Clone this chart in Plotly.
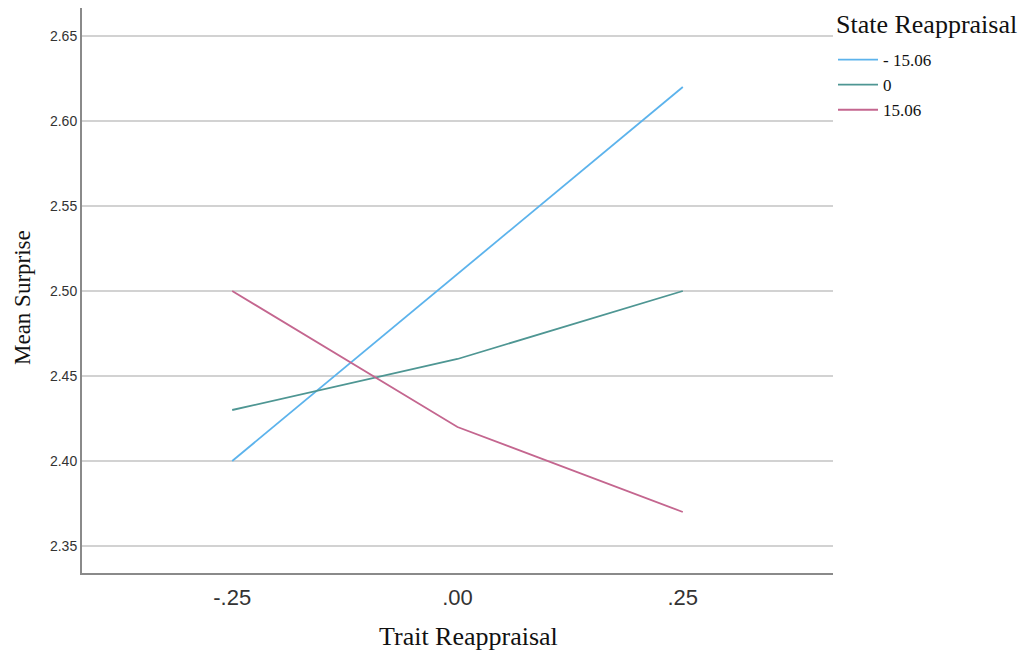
import plotly.graph_objects as go

x_vals = [-0.25, 0.0, 0.25]
x_labels = ["-.25", ".00", ".25"]
series_names = ["- 15.06", "0", "15.06"]
neg = [2.40, 2.51, 2.62]
zero = [2.43, 2.46, 2.50]
pos = [2.50, 2.42, 2.37]
y_ticks = [2.35, 2.40, 2.45, 2.50, 2.55, 2.60, 2.65]
y_labels = ["2.35", "2.40", "2.45", "2.50", "2.55", "2.60", "2.65"]

colors = ["#5cb3ec", "#4e9693", "#c4668f"]

L, R, T, B = 82, 833, 8, 573
W, H = 1023, 654

fig = go.Figure()
for name, ys, c in zip(series_names, [neg, zero, pos], colors):
    fig.add_trace(go.Scatter(x=x_vals, y=ys, mode="lines", name=name,
                             line=dict(color=c, width=1.8)))

fig.update_layout(
    width=W, height=H,
    margin=dict(l=L, r=W - R, t=T, b=H - B, autoexpand=False),
    paper_bgcolor="white", plot_bgcolor="white",
    showlegend=True,
    legend=dict(
        x=(833 - L) / (R - L), y=1 - (42 - T) / (B - T), xanchor="left", yanchor="top",
        font=dict(family="Liberation Serif", size=17, color="#111"),
        tracegroupgap=0, itemwidth=40,
    ),
    xaxis=dict(
        range=[-0.25 * 5 / 3, 0.25 * 5 / 3],
        tickvals=x_vals, ticktext=x_labels,
        tickfont=dict(family="Liberation Sans", size=22, color="#333"),
        showgrid=False, zeroline=False,
        showline=True, linecolor="#8a8a8a", linewidth=2,
        ticks="", ticklabelstandoff=4, automargin=False,
    ),
    yaxis=dict(
        range=[2.35 - 27 / 1700, 2.65 + 28 / 1700],
        tickvals=y_ticks, ticktext=y_labels,
        tickfont=dict(family="Liberation Sans", size=14, color="#333"),
        showgrid=True, gridcolor="#d2d2d2", gridwidth=2,
        zeroline=False,
        showline=True, linecolor="#8a8a8a", linewidth=2,
        ticks="", automargin=False,
    ),
    annotations=[
        dict(text="State Reappraisal", xref="paper", yref="paper",
             x=(834 - L) / (R - L), y=1 - (25 - T) / (B - T),
             xanchor="left", yanchor="middle", showarrow=False,
             font=dict(family="Liberation Serif", size=26, color="#111")),
        dict(text="Trait Reappraisal", xref="paper", yref="paper",
             x=(468 - L) / (R - L), y=-(636 - B) / (B - T),
             xanchor="center", yanchor="middle", showarrow=False,
             font=dict(family="Liberation Serif", size=26, color="#111")),
        dict(text="Mean Surprise", xref="paper", yref="paper",
             x=-(L - 22) / (R - L), y=(B - 298) / (B - T),
             xanchor="center", yanchor="middle", showarrow=False, textangle=-90,
             font=dict(family="Liberation Serif", size=23, color="#111")),
    ],
)

fig.write_html("out.html", config={"displayModeBar": False},
               post_script="document.body.style.margin='0';")
